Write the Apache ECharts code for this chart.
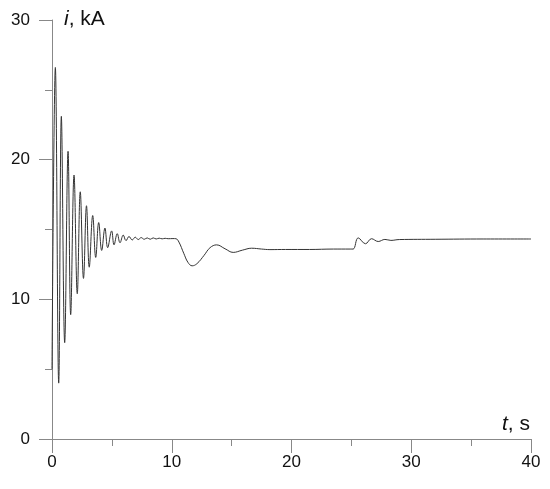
<!DOCTYPE html>
<html>
<head>
<meta charset="utf-8">
<script src="https://cdn.jsdelivr.net/npm/echarts@6/dist/echarts.min.js"></script>
<style>
  html, body { margin: 0; padding: 0; background: #fff; }
  #chart { width: 550px; height: 489px; }
</style>
</head>
<body>
<div id="chart"></div>
<script>
  // time, s
  var times = [
    0, 0.28, 0.56, 0.78, 1.06, 1.34, 1.56, 1.84, 2.11, 2.36, 2.63, 2.88, 3.11, 3.40,
    3.65, 3.90, 4.15, 4.42, 4.65, 4.98, 5.18, 5.45, 5.68, 5.95, 6.18, 6.43, 6.70,
    6.95, 7.20, 7.45, 7.70, 7.95, 8.20, 8.45, 8.70, 8.95, 9.20, 9.45, 9.70, 10.1,
    10.35, 10.6, 11.0, 11.35, 11.7, 12.1, 12.7, 13.2, 13.75, 14.45, 15.13, 15.9, 16.67,
    17.5, 18.2, 19.5, 21.5, 23.5, 24.9, 25.15, 25.57, 26.18, 26.68, 27.24, 27.8, 28.3,
    29, 32, 36, 40
  ];
  // current, kA
  var current = [
    5, 26.6, 4.0, 23.1, 6.9, 20.6, 8.9, 18.9, 10.4, 17.7, 11.5, 16.7, 12.3, 16.0,
    13.0, 15.5, 13.5, 15.1, 13.7, 14.9, 13.9, 14.7, 14.05, 14.6, 14.2, 14.5, 14.25,
    14.45, 14.28, 14.42, 14.3, 14.4, 14.3, 14.4, 14.32, 14.38, 14.33, 14.37, 14.34, 14.35,
    14.34, 14.1, 13.3, 12.65, 12.4, 12.55, 13.15, 13.7, 13.9, 13.62, 13.36, 13.52, 13.66,
    13.6, 13.56, 13.57, 13.57, 13.6, 13.6, 13.6, 14.4, 13.98, 14.34, 14.14, 14.29, 14.22,
    14.28, 14.3, 14.32, 14.32
  ];
  var xTicks = [0, 10, 20, 30, 40];
  var yTicks = [0, 10, 20, 30];

  var points = times.map(function (t, k) { return [t, current[k]]; });

  var chart = echarts.init(document.getElementById('chart'));
  var axisColor = '#888';
  chart.setOption({
    animation: false,
    grid: { left: 52, right: 19, top: 20, bottom: 50 },
    textStyle: { fontFamily: 'Liberation Sans, Arial, sans-serif' },
    xAxis: {
      type: 'value',
      min: xTicks[0],
      max: xTicks[xTicks.length - 1],
      interval: 10,
      axisLine: { lineStyle: { color: axisColor, width: 1 } },
      axisTick: { length: 14, lineStyle: { color: axisColor } },
      minorTick: { show: true, splitNumber: 2, length: 7, lineStyle: { color: axisColor } },
      splitLine: { show: false },
      axisLabel: { color: '#111', fontSize: 17, margin: 15 }
    },
    yAxis: {
      type: 'value',
      min: yTicks[0],
      max: yTicks[yTicks.length - 1],
      interval: 10,
      axisLine: { show: true, lineStyle: { color: axisColor, width: 1 } },
      axisTick: { show: true, length: 13, lineStyle: { color: axisColor } },
      minorTick: { show: true, splitNumber: 2, length: 7, lineStyle: { color: axisColor } },
      splitLine: { show: false },
      axisLabel: { color: '#111', fontSize: 17, margin: 22 }
    },
    graphic: [
      {
        type: 'text', left: 64, top: 9,
        style: {
          text: '{a|i}, kA',
          fontSize: 21, fill: '#111', fontFamily: 'Liberation Sans, Arial, sans-serif',
          rich: { a: { fontStyle: 'italic', fontSize: 21, fill: '#111' } }
        }
      },
      {
        type: 'text', left: 502, top: 414,
        style: {
          text: '{a|t}, s',
          fontSize: 21, fill: '#111', fontFamily: 'Liberation Sans, Arial, sans-serif',
          rich: { a: { fontStyle: 'italic', fontSize: 21, fill: '#111' } }
        }
      }
    ],
    series: [{
      type: 'line',
      data: points,
      smooth: 0.4,
      showSymbol: false,
      lineStyle: { color: '#333', width: 1 }
    }]
  });
</script>
</body>
</html>
